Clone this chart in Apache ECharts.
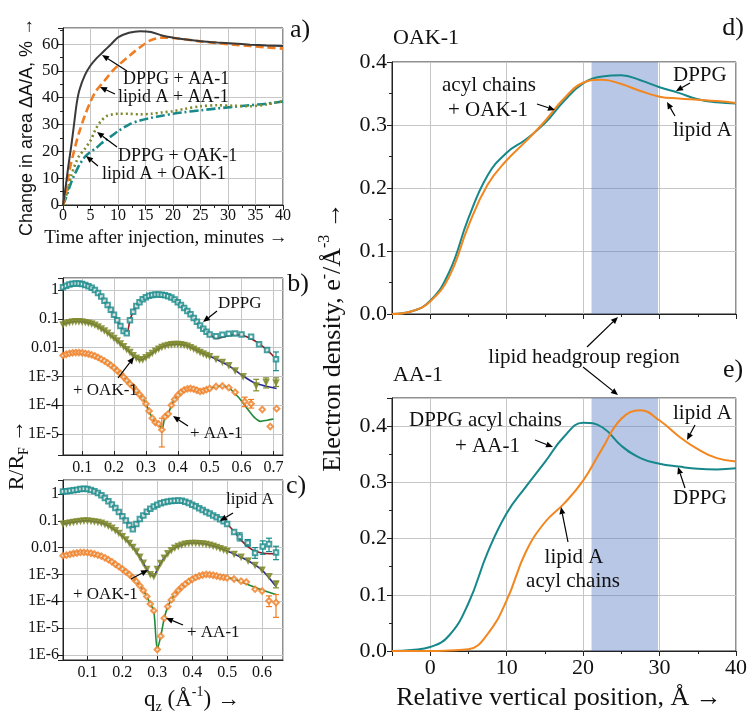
<!DOCTYPE html>
<html>
<head>
<meta charset="utf-8">
<script src="https://cdn.jsdelivr.net/npm/echarts/dist/echarts.min.js"></script>
<style>
html,body{margin:0;padding:0;background:#fff;}
#chart{width:754px;height:723px;}
</style>
</head>
<body>
<div id="chart"></div>
<script>
// ---------- Panel a: change in area vs time ----------
const tA = [0,0.5,1,1.5,2,2.5,3,4,5,6,7,8,9,10,12,14,16,18,20,22,25,28,31,34,37,40];
const aDppgAA  = [0,7,15,22,30,38,43,48.5,52,54.5,56.5,58.5,60.5,62.5,64.2,64.8,64.5,63.2,62.4,61.8,61.1,60.6,60.2,59.8,59.5,59.3];
const aLipidAA = [0,4,11,16,20,24,27.5,33.5,38.5,42.5,45,47.5,50,52,55.5,58.8,61.5,62.4,62.3,61.8,61,60.4,59.8,59.3,58.8,58.3];
const aDppgOAK = [0,3,7,11,14,16.5,18.5,21,24,28.5,31.5,33.2,33.8,34,34,33.8,34,34.5,35,35.8,36.8,37.2,37,36.8,37.5,38.8];
const aLipidOAK= [0,2.5,5.6,8.5,11,13,15,18,19.8,21.2,23,24.5,26,27.5,30,31.5,32.5,33.3,34,34.6,35.3,36,36.6,37.2,37.8,38.6];

// ---------- Panel b: reflectivity, DPPG (log10 of R/RF) ----------
const qB = [0.04,0.05,0.06,0.07,0.08,0.09,0.10,0.11,0.12,0.13,0.14,0.15,0.16,0.17,0.18,0.19,0.20,0.21,0.22,0.23,0.24,0.25,0.26,0.27,0.28,0.29,0.30,0.31,0.32,0.33,0.34,0.35,0.36,0.37,0.38,0.39,0.40,0.41,0.42,0.43,0.44,0.45,0.46,0.47,0.48,0.49,0.50];
const bDppgLog = [0.10,0.15,0.19,0.22,0.23,0.23,0.21,0.18,0.13,0.08,0.0,-0.10,-0.22,-0.37,-0.52,-0.68,-0.86,-1.05,-1.25,-1.42,-1.5,-1.05,-0.75,-0.55,-0.42,-0.32,-0.25,-0.2,-0.17,-0.15,-0.15,-0.16,-0.18,-0.21,-0.26,-0.33,-0.42,-0.52,-0.62,-0.73,-0.84,-0.97,-1.1,-1.23,-1.34,-1.45,-1.54];
const bOakLog  = [-1.2,-1.15,-1.12,-1.1,-1.09,-1.09,-1.1,-1.12,-1.14,-1.17,-1.21,-1.27,-1.34,-1.41,-1.49,-1.58,-1.67,-1.76,-1.86,-1.96,-2.06,-2.16,-2.27,-2.36,-2.42,-2.41,-2.34,-2.27,-2.19,-2.11,-2.04,-1.98,-1.94,-1.91,-1.89,-1.88,-1.88,-1.89,-1.91,-1.94,-1.99,-2.04,-2.1,-2.16,-2.21,-2.26,-2.3];
const bAaLog   = [-2.27,-2.23,-2.2,-2.18,-2.17,-2.17,-2.18,-2.2,-2.22,-2.25,-2.29,-2.34,-2.4,-2.46,-2.53,-2.61,-2.7,-2.8,-2.9,-3.02,-3.14,-3.26,-3.36,-3.5,-3.63,-3.76,-3.95,-4.2,-4.45,-4.6,-4.65,-4.85,-4.4,-4.3,-4.0,-3.8,-3.65,-3.55,-3.47,-3.43,-3.42,-3.44,-3.48,-3.52,-3.5,-3.46,-3.42];
const bDppgHiQ = [0.52,0.54,0.56,0.58,0.60,0.63,0.655,0.68,0.708];
const bDppgHiLog = [-1.6,-1.55,-1.52,-1.51,-1.54,-1.62,-1.88,-2.08,-2.4];
const bOakHiQ = [0.52,0.54,0.56,0.58,0.605,0.646,0.677,0.708];
const bOakHiLog = [-2.4,-2.5,-2.62,-2.8,-3.0,-3.32,-3.2,-3.22];
const bAaHiQ = [0.52,0.54,0.56,0.58,0.61,0.63,0.665,0.69,0.71];
const bAaHiLog = [-3.35,-3.33,-3.39,-3.55,-3.87,-3.95,-4.15,-4.74,-4.12];
const bDppgFitQ = [0.52,0.54,0.56,0.58,0.60,0.62,0.64,0.66,0.68,0.70];
const bDppgFitLog = [-1.68,-1.64,-1.58,-1.55,-1.57,-1.64,-1.75,-1.9,-2.08,-2.3];
const bOakFitQ = [0.52,0.56,0.60,0.64,0.68,0.71];
const bOakFitLog = [-2.4,-2.63,-2.95,-3.22,-3.35,-3.42];
const bAaFitQ = [0.52,0.54,0.56,0.58,0.60,0.62,0.64,0.66,0.68,0.70];
const bAaFitLog = [-3.35,-3.33,-3.4,-3.6,-3.85,-4.15,-4.42,-4.56,-4.52,-4.48];
// error bars: [q, low log, high log]
const bDppgErr = [[0.708,-2.15,-2.8]];
const bOakErr = [[0.646,-3.1,-3.5],[0.677,-3.05,-3.4],[0.708,-3.05,-3.35]];
const bAaErr = [[0.35,-4.45,-5.45],[0.61,-3.72,-4.05],[0.63,-3.8,-4.1]];

// ---------- Panel c: reflectivity, lipid A ----------
const qC = [0.03,0.04,0.05,0.06,0.07,0.08,0.09,0.10,0.11,0.12,0.13,0.14,0.15,0.16,0.17,0.18,0.19,0.20,0.21,0.22,0.23,0.24,0.25,0.26,0.27,0.28,0.29,0.30,0.31,0.32,0.33,0.34,0.35,0.36,0.37,0.38,0.39,0.40,0.41,0.42,0.43,0.44,0.45,0.46,0.47,0.48,0.49,0.50];
const cLipidLog = [0.09,0.1,0.12,0.14,0.16,0.18,0.19,0.18,0.15,0.1,0.04,-0.05,-0.15,-0.27,-0.39,-0.52,-0.67,-0.83,-0.99,-1.17,-1.32,-1.12,-0.93,-0.8,-0.66,-0.55,-0.47,-0.4,-0.35,-0.31,-0.28,-0.26,-0.25,-0.24,-0.25,-0.29,-0.34,-0.4,-0.46,-0.53,-0.6,-0.67,-0.73,-0.8,-0.87,-0.94,-1.02,-1.12];
const cOakLog = [-1.12,-1.1,-1.07,-1.05,-1.03,-1.01,-1.0,-1.0,-1.01,-1.03,-1.05,-1.08,-1.13,-1.19,-1.27,-1.36,-1.46,-1.58,-1.7,-1.83,-1.98,-2.15,-2.35,-2.57,-2.8,-3.0,-3.07,-2.8,-2.58,-2.38,-2.22,-2.1,-2.01,-1.95,-1.9,-1.86,-1.84,-1.83,-1.83,-1.84,-1.85,-1.87,-1.9,-1.94,-1.98,-2.03,-2.08,-2.13];
const cAaLog = [-2.3,-2.28,-2.25,-2.22,-2.2,-2.18,-2.18,-2.19,-2.21,-2.24,-2.28,-2.32,-2.38,-2.45,-2.53,-2.62,-2.71,-2.8,-2.9,-3.0,-3.12,-3.26,-3.42,-3.6,-3.82,-4.1,-4.35,-5.8,-5.3,-4.63,-4.2,-3.95,-3.75,-3.6,-3.47,-3.36,-3.26,-3.18,-3.11,-3.06,-3.02,-3.0,-3.01,-3.03,-3.06,-3.09,-3.11,-3.13];
const cLipidHiQ = [0.52,0.536,0.559,0.58,0.602,0.62,0.64];
const cLipidHiLog = [-1.42,-1.6,-1.82,-2.2,-1.96,-1.87,-2.18];
const cOakHiQ = [0.52,0.54,0.56,0.58,0.60,0.62,0.64];
const cOakHiLog = [-2.24,-2.35,-2.49,-2.65,-2.83,-3.07,-3.35];
const cAaHiQ = [0.52,0.54,0.555,0.58,0.60,0.62,0.64];
const cAaHiLog = [-3.17,-3.25,-3.28,-3.55,-3.62,-3.98,-4.05];
const cLipidFitQ = [0.52,0.54,0.56,0.58,0.60,0.62,0.64];
const cLipidFitLog = [-1.4,-1.72,-1.97,-2.13,-2.2,-2.23,-2.23];
const cOakFitQ = [0.52,0.56,0.60,0.64];
const cOakFitLog = [-2.24,-2.49,-2.84,-3.45];
const cAaFitQ = [0.52,0.56,0.60,0.64];
const cAaFitLog = [-3.17,-3.38,-3.58,-3.75];
const cLipidErr = [[0.536,-1.45,-1.75],[0.559,-1.7,-1.95],[0.58,-2.0,-2.4],[0.602,-1.75,-2.25],[0.62,-1.65,-2.15],[0.64,-1.95,-2.45]];
const cOakErr = [[0.64,-3.25,-3.5]];
const cAaErr = [[0.62,-3.8,-4.2],[0.64,-3.75,-4.6]];

// ---------- Panels d, e: electron density ----------
const zPos = [-5,-2.5,0,2.5,5,7.5,10,12.5,15,17.5,20,22.5,25,27.5,30,32.5,35,37.5,40];
const dDppg  = [0,0.004,0.021,0.067,0.152,0.22,0.256,0.277,0.303,0.338,0.366,0.377,0.379,0.371,0.36,0.351,0.341,0.336,0.334];
const dLipid = [0,0.004,0.02,0.06,0.14,0.205,0.244,0.274,0.306,0.342,0.367,0.372,0.365,0.354,0.345,0.342,0.34,0.338,0.335];
const eDppg  = [0,0.002,0.007,0.028,0.085,0.175,0.245,0.292,0.336,0.381,0.406,0.398,0.365,0.343,0.333,0.328,0.324,0.323,0.325];
const eLipid = [0,0,0,0.001,0.003,0.03,0.09,0.176,0.229,0.262,0.303,0.36,0.413,0.428,0.41,0.382,0.359,0.343,0.337];
const headgroupBand = [21.1, 29.8];

// ---------- axis extents ----------
const bLogMin = -5.73, bLogMax = 0.42, cLogMin = -6.19, cLogMax = 0.52;

// ================= build =================
const SERIF = 'Liberation Serif';
const SANS = 'Liberation Sans';
const P = v => Math.pow(10, v);
const pts = (q, lg) => q.map((x, i) => [x, P(lg[i])]);
const xy = (x, y) => x.map((v, i) => [v, y[i]]);
const errPts = arr => arr.map(e => [e[0], P(e[1]), P(e[2])]);

const C = {
  teal: '#17898a', olive: '#7f8a2c', orange: '#f07d22', dark: '#3a3a3a',
  fitRed: '#9a1a22', fitBlue: '#2a2a96', fitGreen: '#1f8a38',
  lineTeal: '#16878a', lineOrange: '#f2861f'
};

const grids = [
  {left:63, top:28, width:220, height:177},
  {left:63, top:278, width:220, height:177},
  {left:63, top:480, width:220, height:180},
  {left:392, top:62, width:344, height:252},
  {left:392, top:398, width:344, height:253}
].map(g => Object.assign({show:true, borderColor:'#222', borderWidth:1, backgroundColor:'rgba(0,0,0,0)', containLabel:false, outerBoundsMode:'none'}, g));

function ax(o) {
  const b = {
    type:'value',
    axisLine:{show:true, onZero:false, lineStyle:{color:'#222', width:1}},
    axisTick:{show:true, inside:false, length:5, lineStyle:{color:'#222', width:1}},
    minorTick:{show:false},
    splitLine:{show:true, lineStyle:{color:'#c6c6c6', width:1}},
    axisLabel:{color:'#111', fontFamily:SERIF, fontSize:16, margin:5}
  };
  for (const k in o) {
    if (o[k] && typeof o[k] === 'object' && !Array.isArray(o[k]) && b[k]) b[k] = Object.assign({}, b[k], o[k]);
    else b[k] = o[k];
  }
  return b;
}
const minor = {show:true, splitNumber:2, length:3, lineStyle:{color:'#222', width:1}};
function logFmt(v) {
  const l = Math.log10(v), e = Math.round(l);
  if (Math.abs(l - e) > 1e-6) return '';
  if (e === 0) return '1';
  if (e === -1) return '0.1';
  if (e === -2) return '0.01';
  return '1E' + e;
}
const tenth = v => (Math.abs(v * 10 - Math.round(v * 10)) < 1e-6 ? v.toFixed(1) : '');

const xAxes = [
  ax({gridIndex:0, min:0, max:40, interval:5, minorTick:minor, axisLabel:{fontSize:16, margin:3}}),
  ax({gridIndex:1, min:0.04, max:0.73, axisTick:{inside:true, length:4}, axisLabel:{fontSize:16, margin:5, formatter:tenth, showMinLabel:false, showMaxLabel:false}}),
  ax({gridIndex:2, min:0.03, max:0.66, axisTick:{inside:true, length:4}, axisLabel:{fontSize:16, margin:5, formatter:tenth, showMinLabel:false, showMaxLabel:false}}),
  ax({gridIndex:3, min:-5, max:40, minorTick:minor, axisLabel:{show:false}}),
  ax({gridIndex:4, min:-5, max:40, minorTick:minor, axisLabel:{fontSize:22, margin:6, formatter: v => (v === -5 ? '' : String(v))}})
];
const yAxes = [
  ax({gridIndex:0, min:0, max:66, interval:10, minorTick:minor, axisLabel:{fontSize:17, margin:4, showMaxLabel:false, formatter: v => (v % 10 === 0 ? String(v) : '')}}),
  ax({gridIndex:1, type:'log', logBase:10, min:P(bLogMin), max:P(bLogMax), axisLabel:{fontSize:16, margin:4, formatter:logFmt}}),
  ax({gridIndex:2, type:'log', logBase:10, min:P(cLogMin), max:P(cLogMax), axisLabel:{fontSize:16, margin:4, formatter:logFmt}}),
  ax({gridIndex:3, min:0, max:0.4, interval:0.1, minorTick:minor, axisLabel:{fontSize:22, margin:5, formatter:tenth}}),
  ax({gridIndex:4, min:0, max:0.45, interval:0.1, minorTick:minor, axisLabel:{fontSize:22, margin:5, showMaxLabel:false, formatter:tenth}})
];

const series = [];
function aLine(y, color, type, w, z) {
  series.push({type:'line', xAxisIndex:0, yAxisIndex:0, data:xy(tA, y), showSymbol:false, symbol:'none', smooth:0.3,
    lineStyle:{color:color, width:w, type:type}, z:z});
}
aLine(aLipidOAK, C.teal, [9,3,2,3], 2.6, 3);
aLine(aDppgOAK, C.olive, [2,3], 2.6, 3);
aLine(aLipidAA, C.orange, [8,4], 2.6, 4);
aLine(aDppgAA, C.dark, 'solid', 2, 5);

function fitLine(i, q, lg, hq, hlg, color) {
  series.push({type:'line', xAxisIndex:i, yAxisIndex:i, data:pts(q, lg).concat(pts(hq, hlg)), showSymbol:false, symbol:'none',
    smooth:0.25, lineStyle:{color:color, width:1.6}, z:2});
}
function marks(i, q, lg, hq, hlg, color, symbol, size, rot) {
  series.push({type:'scatter', xAxisIndex:i, yAxisIndex:i, data:pts(q, lg).concat(pts(hq, hlg)), symbol:symbol, symbolSize:size,
    symbolRotate:rot || 0, itemStyle:{color:color, borderColor:color, borderWidth:1.3}, z:4});
}
function errBars(i, arr, color) {
  series.push({type:'custom', xAxisIndex:i, yAxisIndex:i, data:errPts(arr), z:3, silent:true,
    encode:{x:0, y:[1,2]},
    renderItem: function (params, api) {
      const x = api.value(0);
      const p1 = api.coord([x, api.value(1)]), p2 = api.coord([x, api.value(2)]);
      const w = 3, st = {stroke:color, lineWidth:1.2};
      return {type:'group', children:[
        {type:'line', shape:{x1:p1[0], y1:p1[1], x2:p2[0], y2:p2[1]}, style:st},
        {type:'line', shape:{x1:p1[0]-w, y1:p1[1], x2:p1[0]+w, y2:p1[1]}, style:st},
        {type:'line', shape:{x1:p2[0]-w, y1:p2[1], x2:p2[0]+w, y2:p2[1]}, style:st}
      ]};
    }});
}
// panel b
fitLine(1, qB, bDppgLog, bDppgFitQ, bDppgFitLog, C.fitRed);
fitLine(1, qB, bOakLog, bOakFitQ, bOakFitLog, C.fitBlue);
fitLine(1, qB, bAaLog, bAaFitQ, bAaFitLog, C.fitGreen);
errBars(1, bDppgErr, C.teal); errBars(1, bOakErr, C.olive); errBars(1, bAaErr, C.orange);
marks(1, qB, bDppgLog, bDppgHiQ, bDppgHiLog, C.teal, 'emptyRect', 4.5);
marks(1, qB, bOakLog, bOakHiQ, bOakHiLog, C.olive, 'triangle', 5.5, 180);
marks(1, qB, bAaLog, bAaHiQ, bAaHiLog, C.orange, 'emptyDiamond', 5.5);
// panel c
fitLine(2, qC, cLipidLog, cLipidFitQ, cLipidFitLog, C.fitRed);
fitLine(2, qC, cOakLog, cOakFitQ, cOakFitLog, C.fitBlue);
fitLine(2, qC, cAaLog, cAaFitQ, cAaFitLog, C.fitGreen);
errBars(2, cLipidErr, C.teal); errBars(2, cOakErr, C.olive); errBars(2, cAaErr, C.orange);
marks(2, qC, cLipidLog, cLipidHiQ, cLipidHiLog, C.teal, 'emptyRect', 4.5);
marks(2, qC, cOakLog, cOakHiQ, cOakHiLog, C.olive, 'triangle', 5.5, 180);
marks(2, qC, cAaLog, cAaHiQ, cAaHiLog, C.orange, 'emptyDiamond', 5.5);
// panels d, e
function dens(i, y, color) {
  series.push({type:'line', xAxisIndex:i, yAxisIndex:i, data:xy(zPos, y), showSymbol:false, symbol:'none', smooth:0.45,
    lineStyle:{color:color, width:2}, z:3});
}
dens(3, dDppg, C.lineTeal); dens(3, dLipid, C.lineOrange);
dens(4, eDppg, C.lineTeal); dens(4, eLipid, C.lineOrange);
[3, 4].forEach(i => series.push({type:'line', xAxisIndex:i, yAxisIndex:i, data:[], z:10, silent:true,
  markArea:{silent:true, itemStyle:{color:'rgba(86,122,195,0.42)'}, data:[[{xAxis:headgroupBand[0]}, {xAxis:headgroupBand[1]}]]}}));

// ---------- text & arrows ----------
const g = [];
function T(x, y, text, size, o) {
  o = o || {};
  const fam = o.family || SERIF;
  const el = {type:'text', x:x, y:y, z:100, silent:true,
    style:{text:text, fontSize:size, fontFamily:fam, fill:'#111',
      align:o.align || 'left', verticalAlign:'middle'}};
  if (o.rot) el.rotation = o.rot;
  if (o.rich) el.style.rich = o.rich;
  g.push(el);
}
function A(x1, y1, x2, y2) {
  const ang = Math.atan2(y2 - y1, x2 - x1), L = 7, W = 3;
  const bx = x2 - L * Math.cos(ang), by = y2 - L * Math.sin(ang);
  const px = -Math.sin(ang) * W, py = Math.cos(ang) * W;
  g.push({type:'line', z:100, silent:true, shape:{x1:x1, y1:y1, x2:bx, y2:by}, style:{stroke:'#000', lineWidth:1.2}});
  g.push({type:'polygon', z:100, silent:true, shape:{points:[[x2, y2], [bx + px, by + py], [bx - px, by - py]]}, style:{fill:'#000'}});
}
const R90 = Math.PI / 2;
// panel a
T(123, 79, 'DPPG + AA-1', 18); A(127, 71, 102, 55);
T(118, 97, 'lipid A + AA-1', 18); A(115, 94, 100, 87);
T(118, 156, 'DPPG + OAK-1', 18); A(117, 147, 97, 132);
T(102, 174, 'lipid A + OAK-1', 18); A(98, 166, 86, 156);
T(300, 30, 'a)', 26, {align:'center'});
T(27, 127, 'Change in area ΔA/A, % →', 18, {rot:R90, align:'center', family:SANS});
T(166, 238, 'Time after injection, minutes →', 19, {align:'center'});
// panel b
T(218, 304, 'DPPG', 17); A(217, 311, 203, 322);
T(73, 391, '+ OAK-1', 17); A(118, 378, 134, 357);
T(190, 434, '+ AA-1', 17); A(188, 426, 173, 416);
T(298, 284, 'b)', 26, {align:'center'});
// panel c
T(226, 500, 'lipid A', 17); A(233, 513, 220, 521);
T(73, 595, '+ OAK-1', 17); A(131, 579, 148, 570);
T(187, 633, '+ AA-1', 17); A(183, 625, 166, 618);
T(296, 486, 'c)', 26, {align:'center'});
const richBase = (s) => {
  const ss = Math.round(s * 0.62);
  return {
    m:{fontSize:s, fontFamily:SERIF, fill:'#111', lineHeight:s + 6},
    s:{fontSize:ss, fontFamily:SERIF, fill:'#111', lineHeight:Math.round(s * 0.7), verticalAlign:'bottom'},
    p:{fontSize:ss, fontFamily:SERIF, fill:'#111', lineHeight:Math.round(s * 0.7), verticalAlign:'top'}
  };
};
T(17, 455, '{m|R/R}{s|F}{m| →}', 22, {rot:R90, align:'center', rich:richBase(22)});
T(192, 700, '{m|q}{s|z}{m| (Å}{p|-1}{m|) →}', 23, {align:'center', rich:richBase(23)});
// panel d
T(393, 38, 'OAK-1', 22);
T(733, 28, 'd)', 26, {align:'center'});
T(673, 75, 'DPPG', 21); A(690, 83, 676, 91);
T(673, 130, 'lipid A', 21); A(675, 116, 667, 102);
T(442, 85, 'acyl chains', 21); T(448, 110, '+ OAK-1', 21); A(537, 104, 555, 110);
T(584, 357, 'lipid headgroup region', 21, {align:'center'});
A(587, 347, 618, 317); A(583, 367, 618, 395);
// panel e
T(393, 375, 'AA-1', 22);
T(733, 370, 'e)', 26, {align:'center'});
T(409, 420, 'DPPG acyl chains', 21); T(455, 446, '+ AA-1', 21); A(535, 440, 553, 447);
T(673, 413, 'lipid A', 21); A(695, 425, 687, 440);
T(673, 498, 'DPPG', 21); A(685, 488, 678, 467);
T(574, 557, 'lipid A', 21, {align:'center'}); T(573, 581, 'acyl chains', 21, {align:'center'}); A(568, 542, 561, 507);
T(333, 337, '{m|Electron density, e}{p|-}{m|/Å}{p|-3}{m| →}', 26, {rot:R90, align:'center', rich:richBase(26)});
T(559, 698, 'Relative vertical position, Å →', 26, {align:'center'});

const chart = echarts.init(document.getElementById('chart'), null, {renderer:'canvas', width:754, height:723});
chart.setOption({
  backgroundColor:'#fff',
  animation:false,
  grid:grids,
  xAxis:xAxes,
  yAxis:yAxes,
  series:series,
  graphic:{elements:g}
});
</script>
</body>
</html>
